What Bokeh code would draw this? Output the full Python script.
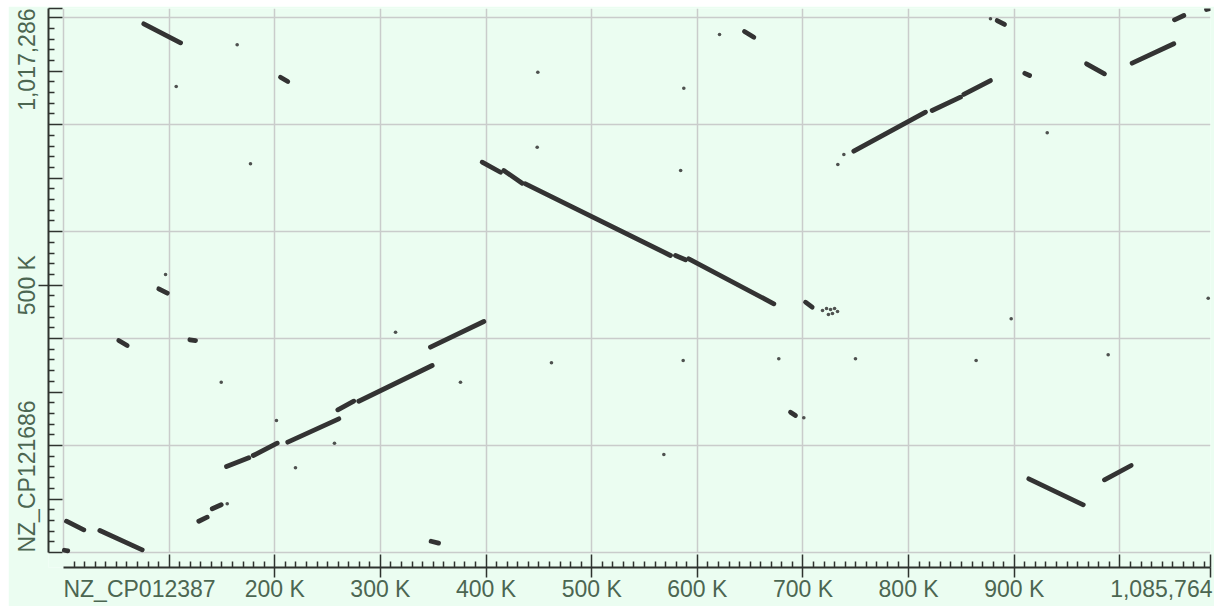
import math
from bokeh.plotting import figure
from bokeh.models import Range1d, LinearAxis, FixedTicker, Grid, ColumnDataSource, Spacer
from bokeh.layouts import column, row
from bokeh.embed import file_html
from bokeh.resources import INLINE

# ---------------- data ----------------
X_NAME = "NZ_CP012387"
Y_NAME = "NZ_CP121686"
X_LEN = 1085764
Y_LEN = 1017286
X_END_LABEL = "1,085,764"
Y_END_LABEL = "1,017,286"

x_grid_ticks = [0, 100000, 200000, 300000, 400000, 500000, 600000, 700000, 800000, 900000, 1000000]
y_grid_ticks = [0, 200000, 400000, 600000, 800000, 1000000]

x_long_ticks = [100000, 200000, 300000, 400000, 500000, 600000, 700000, 800000, 900000, 1000000, X_LEN]
x_minor_ticks = [t for t in range(10000, X_LEN, 10000) if t % 100000 != 0]
x_label_ticks = [200000, 300000, 400000, 500000, 600000, 700000, 800000, 900000]
x_tick_labels = ["200 K", "300 K", "400 K", "500 K", "600 K", "700 K", "800 K", "900 K"]

y_long_ticks = [0, 100000, 200000, 300000, 400000, 500000, 600000, 700000, 800000, 900000, 1000000, Y_LEN]
y_minor_ticks = [t for t in range(20000, Y_LEN, 20000) if t % 100000 != 0]
y_label_ticks = [500000]
y_tick_labels = ["500 K"]

# alignment runs (query position x, subject position y), start and end
seg_x0 = [2800, 34400, 800, 52300, 90200, 119600, 128100, 140800, 154300, 179600,
          212300, 259700, 279500, 347400, 348000, 396300, 416800, 437300, 579300, 591900,
          702400, 688200, 748100, 822300, 852200, 883800, 910000, 968400, 1011600, 1051700,
          913800, 985400, 76000, 205400, 644600, 1082000]
seg_y0 = [58500, 41100, 4200, 396400, 493100, 397800, 58500, 81700, 160800, 181400,
          206300, 266900, 282900, 383900, 21000, 729900, 714300, 689500, 555400, 549200,
          468100, 262400, 750400, 826500, 856500, 994800, 896000, 913900, 915000, 996100,
          137800, 135900, 988600, 888800, 974300, 1015500]
seg_x1 = [19200, 74500, 4000, 60300, 98200, 125000, 136000, 149300, 175400, 202300,
          260600, 274800, 349000, 397900, 355000, 413700, 434200, 574600, 588800, 672400,
          708700, 692900, 816000, 849100, 877500, 890800, 914500, 985400, 1051000, 1060500,
          965300, 1010700, 110800, 212300, 653500, 1085000]
seg_y1 = [42400, 5000, 3000, 387100, 484900, 396400, 66000, 89200, 177100, 204400,
          250000, 282900, 349700, 432000, 17500, 711100, 690600, 555400, 547300, 465100,
          458700, 256200, 823400, 851500, 882600, 987400, 892000, 895200, 951300, 1004200,
          89200, 162700, 953100, 880800, 963600, 1016800]

# isolated short hits
dot_x = [96600, 149300, 155000, 201600, 219600, 256500, 314300, 375800, 448400, 584200,
         461900, 586600, 677100, 749700, 700800, 568300, 733000, 738700, 931200, 164400,
         106700, 177000, 449000, 587200, 621000, 897100, 863900, 988900, 1083600, 877500,
         718500, 722300, 726100, 729900, 732700, 727900, 724100]
dot_y = [519800, 318500, 91100, 246800, 158400, 204400, 412000, 318500, 757900, 714300,
         354700, 359000, 362200, 362200, 251900, 183300, 725600, 744300, 784800, 949400,
         871400, 726900, 898200, 868200, 968700, 437000, 359000, 369700, 475500, 998000,
         452500, 456300, 454400, 456300, 450700, 446900, 445000]

# ---------------- style / layout ----------------
BG = "#ebfdf1"
GRID = "#c9cccb"
AX = "#2e332f"
TXT = "#4c6651"
DOT = "#333333"
FONT = "Liberation Sans"
FS_PX = 23
FS = "%dpx" % FS_PX

W, H = 1206, 600
DATA_W, DATA_H = 1147, 544          # pixel size of the sequence area
GAP_X, GAP_Y = 15, 15               # offset of the axes from the sequence area
UPX = X_LEN / DATA_W                # bp per pixel, x
UPY = Y_LEN / DATA_H                # bp per pixel, y
X0 = -GAP_X * UPX
Y0 = -GAP_Y * UPY

p = figure(width=W, height=H,
           x_range=Range1d(X0, X_LEN), y_range=Range1d(Y0, Y_LEN),
           x_axis_type=None, y_axis_type=None,
           toolbar_location=None, output_backend="svg",
           min_border_left=40, min_border_right=4, min_border_top=2, min_border_bottom=39,
           background_fill_color=BG, border_fill_color=BG, outline_line_color=None)

xgrid = Grid(dimension=0, ticker=FixedTicker(ticks=x_grid_ticks),
             grid_line_color=GRID, grid_line_width=1.5)
ygrid = Grid(dimension=1, ticker=FixedTicker(ticks=y_grid_ticks),
             grid_line_color=GRID, grid_line_width=1.5)
use_mask = False
try:
    xgrid.cross_bounds = (0, Y_LEN)
    ygrid.cross_bounds = (0, X_LEN)
except Exception:
    use_mask = True
p.add_layout(xgrid)
p.add_layout(ygrid)
if use_mask:
    p.quad(left=[X0, X0], right=[-1.5 * UPX, X_LEN], bottom=[Y0, Y0], top=[Y_LEN, -1.5 * UPY],
           fill_color=BG, line_color=None)


def tick_axis(minors, tin, tout, line=False, bounds="auto"):
    """axis that draws only tick marks (no labels)"""
    return LinearAxis(ticker=FixedTicker(ticks=[], minor_ticks=minors), bounds=bounds,
                      axis_line_color=AX if line else None, axis_line_width=2,
                      major_tick_in=0, major_tick_out=0,
                      minor_tick_in=tin, minor_tick_out=tout, minor_tick_line_color=AX,
                      minor_tick_line_width=1.5, major_label_standoff=0)


def label_axis(ticks, labels, orient="horizontal"):
    """axis that draws only the tick labels"""
    return LinearAxis(ticker=FixedTicker(ticks=ticks, minor_ticks=[]),
                      major_label_overrides={t: l for t, l in zip(ticks, labels)},
                      axis_line_color=None, major_tick_line_color=None,
                      major_tick_in=0, major_tick_out=0, minor_tick_line_color=None,
                      major_label_text_font=FONT, major_label_text_font_size=FS,
                      major_label_text_color=TXT, major_label_standoff=-2,
                      major_label_orientation=orient)


# approximate text widths (Liberation Sans advance widths, em)
W_NAME = 6.61 * FS_PX
W_END = 4.45 * FS_PX

# x axis: line + minor ticks, long ticks, out ticks, labels
x_lab_pos = [W_NAME / 2 * UPX] + x_label_ticks + [X_LEN - (W_END / 2 - 2) * UPX]
x_lab_txt = [X_NAME] + x_tick_labels + [X_END_LABEL]
p.add_layout(tick_axis(x_minor_ticks, 6, 0, line=True, bounds=(0, X_LEN)), "below")
p.add_layout(tick_axis(x_long_ticks, 13, 0), "below")
p.add_layout(tick_axis(x_label_ticks + [X_LEN], 0, 10), "below")
p.add_layout(label_axis(x_lab_pos, x_lab_txt), "below")

# y axis
y_lab_pos = [W_NAME / 2 * UPY] + y_label_ticks + [Y_LEN - W_END / 2 * UPY]
y_lab_txt = [Y_NAME] + y_tick_labels + [Y_END_LABEL]
p.add_layout(tick_axis(y_minor_ticks, 6, 0, line=True, bounds=(0, Y_LEN)), "left")
p.add_layout(tick_axis(y_long_ticks, 14, 0), "left")
p.add_layout(tick_axis(y_label_ticks, 0, 10), "left")
p.add_layout(label_axis(y_lab_pos, y_lab_txt, "vertical"), "left")

# alignment marks
src = ColumnDataSource(dict(x0=seg_x0, y0=seg_y0, x1=seg_x1, y1=seg_y1))
p.segment(x0="x0", y0="y0", x1="x1", y1="y1", source=src,
          line_color=DOT, line_width=4.8, line_cap="round")
p.scatter(dot_x, dot_y, size=3.6, fill_color=DOT, line_color=None, fill_alpha=0.85)

layout = column(Spacer(height=6), row(Spacer(width=8), p))
open("out.html", "w").write(file_html(layout, INLINE))
